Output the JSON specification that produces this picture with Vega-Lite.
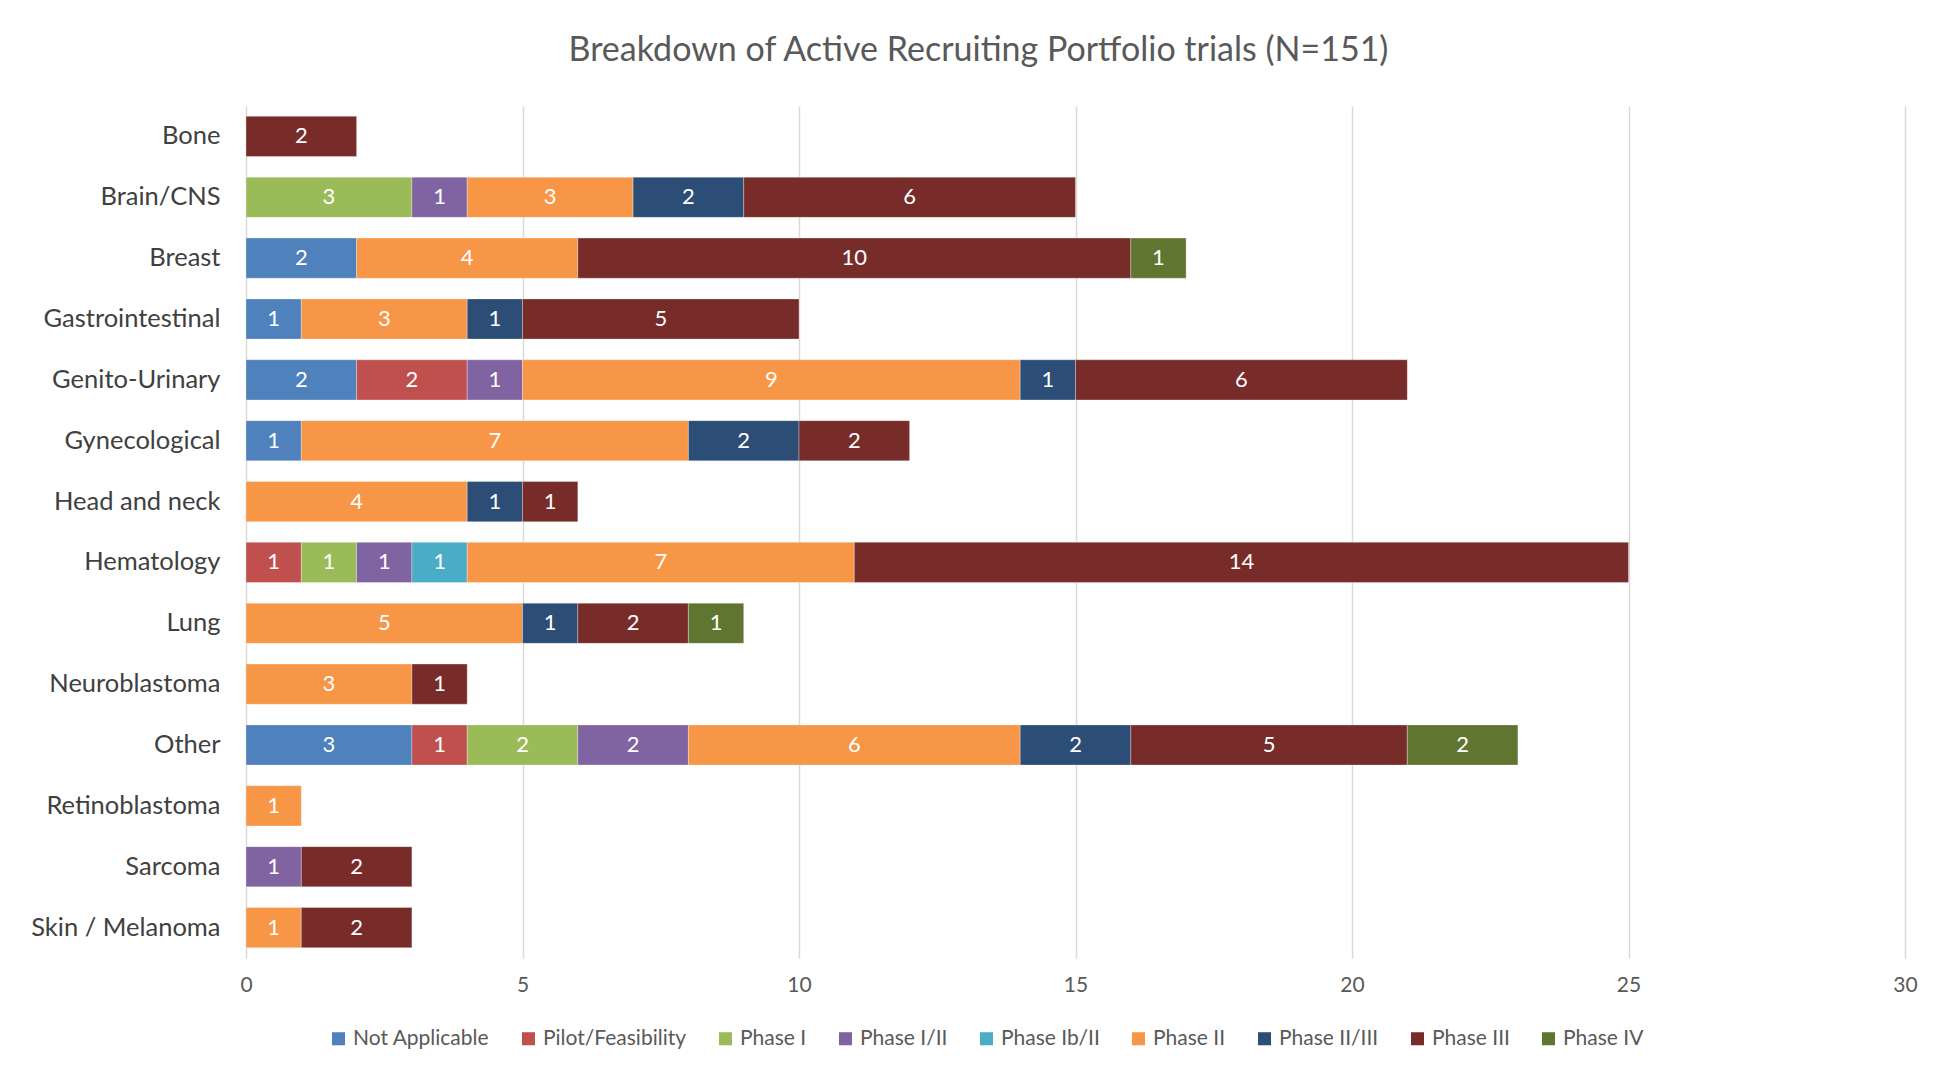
{
  "$schema": "https://vega.github.io/schema/vega-lite/v6.json",
  "autosize": "none",
  "width": 1659,
  "height": 852,
  "padding": {"left": 246, "top": 106, "right": 51, "bottom": 116},
  "background": "white",
  "title": {
    "text": "Breakdown of Active Recruiting Portfolio trials (N=151)",
    "anchor": "middle",
    "dx": -97,
    "offset": 38,
    "font": "Lato",
    "fontSize": 34,
    "fontWeight": "normal",
    "color": "#595959"
  },
  "data": {
    "values": [
      {"area": "Bone", "phase": "Phase III", "ord": 8, "n": 2},
      {"area": "Brain/CNS", "phase": "Phase I", "ord": 3, "n": 3},
      {"area": "Brain/CNS", "phase": "Phase I/II", "ord": 4, "n": 1},
      {"area": "Brain/CNS", "phase": "Phase II", "ord": 6, "n": 3},
      {"area": "Brain/CNS", "phase": "Phase II/III", "ord": 7, "n": 2},
      {"area": "Brain/CNS", "phase": "Phase III", "ord": 8, "n": 6},
      {"area": "Breast", "phase": "Not Applicable", "ord": 1, "n": 2},
      {"area": "Breast", "phase": "Phase II", "ord": 6, "n": 4},
      {"area": "Breast", "phase": "Phase III", "ord": 8, "n": 10},
      {"area": "Breast", "phase": "Phase IV", "ord": 9, "n": 1},
      {"area": "Gastrointestinal", "phase": "Not Applicable", "ord": 1, "n": 1},
      {"area": "Gastrointestinal", "phase": "Phase II", "ord": 6, "n": 3},
      {"area": "Gastrointestinal", "phase": "Phase II/III", "ord": 7, "n": 1},
      {"area": "Gastrointestinal", "phase": "Phase III", "ord": 8, "n": 5},
      {"area": "Genito-Urinary", "phase": "Not Applicable", "ord": 1, "n": 2},
      {"area": "Genito-Urinary", "phase": "Pilot/Feasibility", "ord": 2, "n": 2},
      {"area": "Genito-Urinary", "phase": "Phase I/II", "ord": 4, "n": 1},
      {"area": "Genito-Urinary", "phase": "Phase II", "ord": 6, "n": 9},
      {"area": "Genito-Urinary", "phase": "Phase II/III", "ord": 7, "n": 1},
      {"area": "Genito-Urinary", "phase": "Phase III", "ord": 8, "n": 6},
      {"area": "Gynecological", "phase": "Not Applicable", "ord": 1, "n": 1},
      {"area": "Gynecological", "phase": "Phase II", "ord": 6, "n": 7},
      {"area": "Gynecological", "phase": "Phase II/III", "ord": 7, "n": 2},
      {"area": "Gynecological", "phase": "Phase III", "ord": 8, "n": 2},
      {"area": "Head and neck", "phase": "Phase II", "ord": 6, "n": 4},
      {"area": "Head and neck", "phase": "Phase II/III", "ord": 7, "n": 1},
      {"area": "Head and neck", "phase": "Phase III", "ord": 8, "n": 1},
      {"area": "Hematology", "phase": "Pilot/Feasibility", "ord": 2, "n": 1},
      {"area": "Hematology", "phase": "Phase I", "ord": 3, "n": 1},
      {"area": "Hematology", "phase": "Phase I/II", "ord": 4, "n": 1},
      {"area": "Hematology", "phase": "Phase Ib/II", "ord": 5, "n": 1},
      {"area": "Hematology", "phase": "Phase II", "ord": 6, "n": 7},
      {"area": "Hematology", "phase": "Phase III", "ord": 8, "n": 14},
      {"area": "Lung", "phase": "Phase II", "ord": 6, "n": 5},
      {"area": "Lung", "phase": "Phase II/III", "ord": 7, "n": 1},
      {"area": "Lung", "phase": "Phase III", "ord": 8, "n": 2},
      {"area": "Lung", "phase": "Phase IV", "ord": 9, "n": 1},
      {"area": "Neuroblastoma", "phase": "Phase II", "ord": 6, "n": 3},
      {"area": "Neuroblastoma", "phase": "Phase III", "ord": 8, "n": 1},
      {"area": "Other", "phase": "Not Applicable", "ord": 1, "n": 3},
      {"area": "Other", "phase": "Pilot/Feasibility", "ord": 2, "n": 1},
      {"area": "Other", "phase": "Phase I", "ord": 3, "n": 2},
      {"area": "Other", "phase": "Phase I/II", "ord": 4, "n": 2},
      {"area": "Other", "phase": "Phase II", "ord": 6, "n": 6},
      {"area": "Other", "phase": "Phase II/III", "ord": 7, "n": 2},
      {"area": "Other", "phase": "Phase III", "ord": 8, "n": 5},
      {"area": "Other", "phase": "Phase IV", "ord": 9, "n": 2},
      {"area": "Retinoblastoma", "phase": "Phase II", "ord": 6, "n": 1},
      {"area": "Sarcoma", "phase": "Phase I/II", "ord": 4, "n": 1},
      {"area": "Sarcoma", "phase": "Phase III", "ord": 8, "n": 2},
      {"area": "Skin / Melanoma", "phase": "Phase II", "ord": 6, "n": 1},
      {"area": "Skin / Melanoma", "phase": "Phase III", "ord": 8, "n": 2}
    ]
  },
  "encoding": {
    "y": {
      "field": "area",
      "type": "nominal",
      "sort": ["Bone", "Brain/CNS", "Breast", "Gastrointestinal", "Genito-Urinary", "Gynecological", "Head and neck", "Hematology", "Lung", "Neuroblastoma", "Other", "Retinoblastoma", "Sarcoma", "Skin / Melanoma"],
      "scale": {"paddingInner": 0.34, "paddingOuter": 0.17},
      "axis": {
        "title": null,
        "domain": false,
        "ticks": false,
        "labelFont": "Lato",
        "labelFontSize": 25.5,
        "labelLimit": 0,
        "labelColor": "#404040",
        "labelPadding": 26
      }
    },
    "x": {
      "field": "n",
      "type": "quantitative",
      "stack": "zero",
      "scale": {"domain": [0, 30], "nice": false},
      "axis": {
        "title": null,
        "values": [0, 5, 10, 15, 20, 25, 30],
        "domain": false,
        "ticks": false,
        "grid": true,
        "gridColor": "#d9d9d9",
        "gridWidth": 1.5,
        "labelFlush": false,
        "labelFont": "Lato",
        "labelFontSize": 21,
        "labelColor": "#595959",
        "labelPadding": 16
      }
    },
    "order": {"field": "ord", "type": "quantitative"}
  },
  "layer": [
    {
      "mark": {"type": "bar", "stroke": "white", "strokeWidth": 0.6, "strokeOpacity": 0.5},
      "encoding": {
        "color": {
          "field": "phase",
          "type": "nominal",
          "scale": {
            "domain": ["Not Applicable", "Pilot/Feasibility", "Phase I", "Phase I/II", "Phase Ib/II", "Phase II", "Phase II/III", "Phase III", "Phase IV"],
            "range": ["#4F81BD", "#C0504D", "#9BBB59", "#8064A2", "#4BACC6", "#F79646", "#2C4D75", "#772C2A", "#5F7530"]
          },
          "legend": {
            "title": null,
            "orient": "none",
            "direction": "horizontal",
            "legendX": 82,
            "legendY": 922,
            "symbolType": "square",
            "symbolSize": 170,
            "symbolStrokeWidth": 0,
            "labelFont": "Lato",
            "labelFontSize": 21,
            "labelColor": "#595959",
            "columnPadding": 28,
            "labelOffset": 4
          }
        }
      }
    },
    {
      "mark": {"type": "text", "color": "white", "font": "Lato", "fontSize": 22, "baseline": "middle", "align": "center"},
      "encoding": {
        "x": {"field": "n", "type": "quantitative", "stack": "zero", "bandPosition": 0.5},
        "text": {"field": "n", "type": "quantitative"}
      }
    }
  ],
  "config": {"view": {"stroke": null}}
}
